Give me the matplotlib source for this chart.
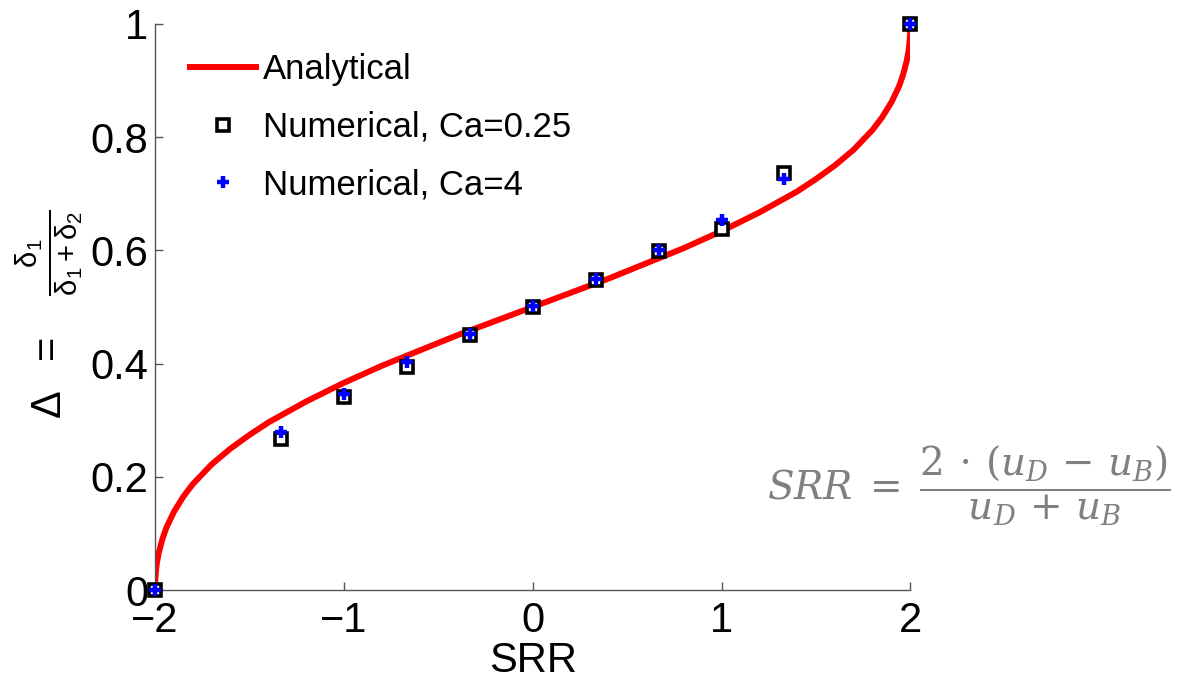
import matplotlib
matplotlib.use("Agg")
import matplotlib.pyplot as plt

plt.rcParams['font.family'] = ['Liberation Sans', 'DejaVu Sans']
plt.rcParams['mathtext.fontset'] = 'custom'
plt.rcParams['mathtext.rm'] = 'Liberation Sans'
plt.rcParams['mathtext.it'] = 'Liberation Sans:italic'

# analytical curve
srr_curve = [-2.0, -1.999, -1.995, -1.99, -1.98, -1.96, -1.94, -1.9, -1.85, -1.8,
             -1.7, -1.6, -1.5, -1.4, -1.2, -1.0, -0.8, -0.6, -0.4, -0.2, 0.0,
             0.2, 0.4, 0.6, 0.8, 1.0, 1.2, 1.4, 1.5, 1.6, 1.7, 1.8, 1.85, 1.9,
             1.94, 1.96, 1.98, 1.99, 1.995, 1.999, 2.0]
delta_curve = [0.0, 0.016, 0.034, 0.048, 0.066, 0.091, 0.110, 0.138, 0.165, 0.187,
               0.222, 0.250, 0.274, 0.296, 0.333, 0.366, 0.396, 0.423, 0.450, 0.475, 0.500,
               0.525, 0.550, 0.577, 0.604, 0.634, 0.667, 0.704, 0.726, 0.750, 0.778, 0.813,
               0.835, 0.862, 0.890, 0.909, 0.934, 0.952, 0.966, 0.984, 1.0]

# numerical results
srr_num = [-2.0, -1.333, -1.0, -0.667, -0.333, 0.0, 0.333, 0.667, 1.0, 1.333, 2.0]
delta_ca025 = [0.0, 0.266, 0.341, 0.394, 0.450, 0.500, 0.548, 0.599, 0.638, 0.737, 1.0]
delta_ca4 = [0.0, 0.279, 0.346, 0.403, 0.452, 0.502, 0.549, 0.601, 0.654, 0.726, 1.0]

fig = plt.figure(figsize=(11.96, 6.81), dpi=100)
ax = fig.add_axes([0.1296, 0.1336, 0.6316, 0.8312])

ax.plot(srr_curve, delta_curve, color='red', lw=4.3, label='Analytical', zorder=2)
ax.plot(srr_num, delta_ca025, ls='none', marker='s', ms=8.5, mfc='white', mec='black',
        mew=2.6, label='Numerical, Ca=0.25', clip_on=False, zorder=3)
ax.plot(srr_num, delta_ca4, ls='none', marker='+', ms=9, mec='blue', mew=3.2,
        label='Numerical, Ca=4', clip_on=False, zorder=4)

ax.set_xlim(-2, 2)
ax.set_ylim(0, 1)
ax.set_xticks([-2, -1, 0, 1, 2])
ax.set_xticklabels(['\u22122', '\u22121', '0', '1', '2'])
ax.set_yticks([0, 0.2, 0.4, 0.6, 0.8, 1])
ax.set_yticklabels(['0', '0.2', '0.4', '0.6', '0.8', '1'])

for side in ['top', 'right']:
    ax.spines[side].set_visible(False)
for side in ['left', 'bottom']:
    ax.spines[side].set_color('#555555')
    ax.spines[side].set_linewidth(1.0)
ax.tick_params(direction='in', length=6, width=1, color='#555555', labelsize=30)
ax.tick_params(axis='y', pad=5)
ax.tick_params(axis='x', pad=8)

ax.set_xlabel('SRR', fontsize=30, labelpad=0)
ax.set_ylabel(r'$\mathregular{\Delta\ \ =\ \ \ \frac{\delta_1}{\delta_1 + \delta_2}}$', fontsize=30)
ax.yaxis.set_label_coords(-0.093, 0.487)

ax.legend(loc='upper left', frameon=False, fontsize=25, handlelength=1.9,
          handletextpad=0.2, labelspacing=0.7, bbox_to_anchor=(0.0464, 0.948),
          borderaxespad=0, borderpad=0)

fig.text(0.6413, 0.2658,
         r'$SRR\;=\;\dfrac{2\,\cdot\,(u_D\,-\,u_B)}{u_D\,+\,u_B}$', fontsize=28,
         color='#808080', ha='left', va='baseline', math_fontfamily='dejavuserif')

fig.savefig('out.png', dpi=100)
